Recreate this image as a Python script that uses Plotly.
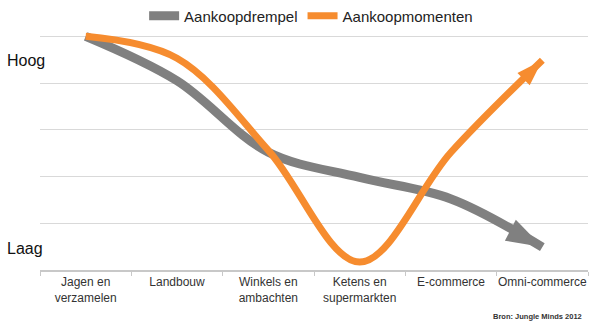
import plotly.graph_objects as go

categories = ["Jagen en<br>verzamelen", "Landbouw", "Winkels en<br>ambachten",
              "Ketens en<br>supermarkten", "E-commerce", "Omni-commerce"]
drempel = [5.0, 4.05, 2.52, 1.98, 1.52, 0.49]
momenten = [5.0, 4.53, 2.56, 0.17, 2.52, 4.49]
y_labels = ["Laag", "Hoog"]
y_label_vals = [0.47, 4.49]
grid_vals = [0, 1, 2, 3, 4, 5]
source = "Bron: Jungle Minds 2012"

GRAY = "#808080"
ORANGE = "#f68c2f"
FONT = "Liberation Sans, Arial, sans-serif"

def arrow_sizes(n, s):
    return [0] * (n - 1) + [s]

fig = go.Figure()
fig.add_trace(go.Scatter(
    x=categories, y=drempel, name="Aankoopdrempel",
    mode="lines+markers",
    line=dict(color=GRAY, width=9, shape="spline", smoothing=1.0),
    marker=dict(symbol="arrow", size=arrow_sizes(len(drempel), 38), color=GRAY,
                opacity=1, angleref="previous", line=dict(width=0)),
    cliponaxis=False,
))
fig.add_trace(go.Scatter(
    x=categories, y=momenten, name="Aankoopmomenten",
    mode="lines+markers",
    line=dict(color=ORANGE, width=7, shape="spline", smoothing=1.0),
    marker=dict(symbol="arrow", size=arrow_sizes(len(momenten), 28), color=ORANGE,
                opacity=1, angleref="previous", line=dict(width=0)),
    cliponaxis=False,
))

for lab, v in zip(y_labels, y_label_vals):
    fig.add_annotation(text=lab, xref="paper", yref="y", x=-0.064, y=v,
                       xanchor="left", yanchor="middle", showarrow=False,
                       font=dict(family=FONT, size=16, color="#111"))

fig.add_annotation(text="<b>" + source + "</b>", xref="paper", yref="paper",
                   x=0.993, y=-0.19, xanchor="right", yanchor="middle",
                   showarrow=False, font=dict(family=FONT, size=7.5, color="#333"))

fig.update_layout(
    width=595, height=325,
    margin=dict(l=40, r=7, t=27, b=55, autoexpand=False),
    plot_bgcolor="white", paper_bgcolor="white",
    font=dict(family=FONT, color="#333"),
    showlegend=True,
    legend=dict(orientation="h", x=0.19, xanchor="left", y=1.045, yanchor="middle",
                font=dict(family=FONT, size=15, color="#222"),
                bgcolor="rgba(0,0,0,0)"),
    xaxis=dict(
        type="category", categoryorder="array", categoryarray=categories,
        range=[-0.5, len(categories) - 0.5],
        showgrid=False, zeroline=False, tickangle=0, automargin=False,
        showline=True, linecolor="#c8c8c8", linewidth=1.5,
        ticks="outside", tickson="boundaries", ticklen=4, tickcolor="#c8c8c8",
        tickfont=dict(family=FONT, size=12, color="#333"),
    ),
    yaxis=dict(
        range=[0, 5.2], tickmode="array", tickvals=grid_vals,
        showticklabels=False, showgrid=True, gridcolor="#d9d9d9", gridwidth=1.2,
        zeroline=False, showline=False, fixedrange=True, automargin=False,
    ),
)

fig.write_html("out.html")
